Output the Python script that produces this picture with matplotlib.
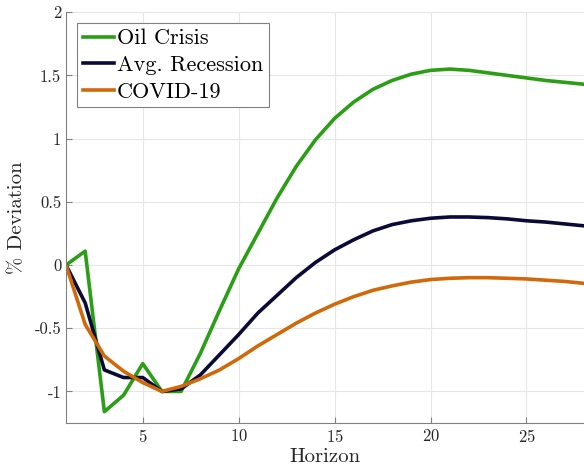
import numpy as np
import matplotlib
matplotlib.use("Agg")
import matplotlib.pyplot as plt
from matplotlib.ticker import FuncFormatter

plt.rcParams['font.family'] = 'serif'
plt.rcParams['font.serif'] = ['cmr10', 'DejaVu Serif']
plt.rcParams['mathtext.fontset'] = 'cm'
plt.rcParams['axes.unicode_minus'] = False
plt.rcParams['axes.formatter.use_mathtext'] = True

horizon = np.arange(1, 29)

oil_crisis = [0, 0.11, -1.16, -1.03, -0.78, -1.0, -1.0, -0.7, -0.36, -0.03,
              0.25, 0.53, 0.78, 0.99, 1.16, 1.29, 1.39, 1.46, 1.51, 1.54,
              1.55, 1.54, 1.52, 1.50, 1.48, 1.46, 1.445, 1.43]
avg_recession = [0, -0.3, -0.83, -0.89, -0.89, -1.0, -0.98, -0.87, -0.71, -0.55,
                 -0.38, -0.24, -0.1, 0.02, 0.12, 0.2, 0.27, 0.32, 0.35, 0.37,
                 0.38, 0.38, 0.375, 0.365, 0.35, 0.34, 0.325, 0.31]
covid = [0, -0.47, -0.72, -0.84, -0.93, -1.0, -0.96, -0.9, -0.83, -0.74,
         -0.64, -0.55, -0.46, -0.38, -0.31, -0.25, -0.2, -0.165, -0.135, -0.115,
         -0.105, -0.1, -0.1, -0.105, -0.11, -0.12, -0.13, -0.145]

fig = plt.figure(figsize=(5.84, 4.69), dpi=100)
ax = fig.add_axes([0.113, 0.098, 0.887, 0.876])

ax.plot(horizon, oil_crisis, color='#2A9E14', lw=2.6, label='Oil Crisis')
ax.plot(horizon, avg_recession, color='#0A0A38', lw=2.6, label='Avg. Recession')
ax.plot(horizon, covid, color='#D1690A', lw=2.6, label='COVID-19')

ax.set_xlim(1, 28)
ax.set_ylim(-1.25, 2)
ax.set_xticks([5, 10, 15, 20, 25])
ax.set_yticks([-1, -0.5, 0, 0.5, 1, 1.5, 2])
ax.yaxis.set_major_formatter(FuncFormatter(lambda v, p: '%g' % v))
ax.grid(True, color='#e6e6e6', lw=0.8)
ax.set_axisbelow(True)
for s in ['top', 'right']:
    ax.spines[s].set_visible(False)
for s in ['left', 'bottom']:
    ax.spines[s].set_color('#808080')
ax.tick_params(direction='in', colors='#808080', labelcolor='#262626', labelsize=12, length=4)

ax.set_xlabel('Horizon', fontsize=15, color='#262626', labelpad=2)
ax.set_ylabel('% Deviation', fontsize=15, color='#262626', labelpad=6)

leg = ax.legend(loc='upper left', fontsize=16, handlelength=1.4, handletextpad=0.15,
                borderpad=0.25, labelspacing=0.32, borderaxespad=0.5,
                fancybox=False, framealpha=1)
leg.get_frame().set_edgecolor('#808080')
leg.get_frame().set_linewidth(0.8)

fig.savefig('out.png', dpi=100)
